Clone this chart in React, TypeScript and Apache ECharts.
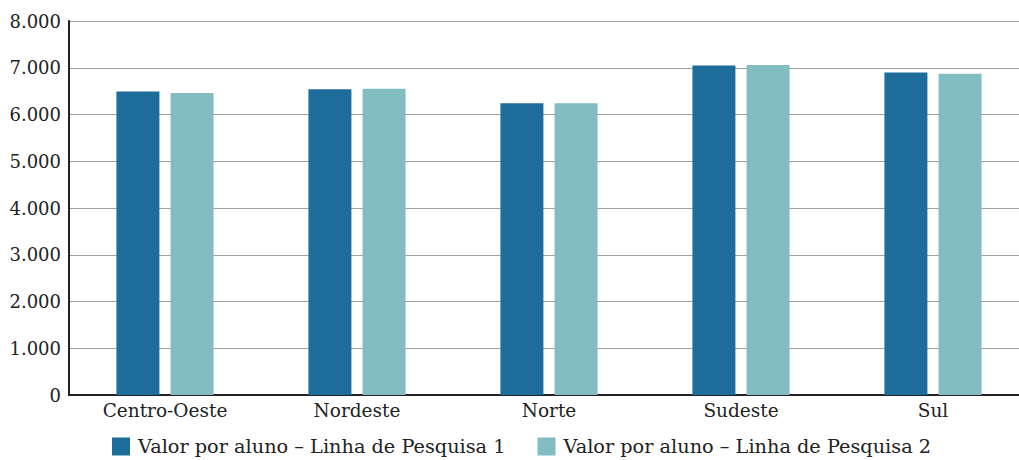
import React, { useEffect, useRef } from "react";
import * as echarts from "echarts";

const regions = ["Centro-Oeste", "Nordeste", "Norte", "Sudeste", "Sul"];
const linha1 = [6490, 6540, 6240, 7050, 6900];
const linha2 = [6460, 6550, 6240, 7060, 6870];
const seriesNames = [
  "Valor por aluno – Linha de Pesquisa 1",
  "Valor por aluno – Linha de Pesquisa 2",
];
const colors = ["#1d6d9b", "#82bec1"];

const FONT = "DejaVu Serif";

function formatThousands(v: number): string {
  return v === 0 ? "0" : String(v).replace(/\B(?=(\d{3})+(?!\d))/g, ".");
}

export default function App() {
  const ref = useRef<HTMLDivElement>(null);

  useEffect(() => {
    document.body.style.margin = "0";
    const chart = echarts.init(ref.current!, null, { renderer: "svg" });
    chart.setOption({
      animation: false,
      backgroundColor: "#ffffff",
      textStyle: { fontFamily: FONT },
      // plot area runs a little past the right edge, so the last category is clipped
      grid: {
        left: 69,
        width: 960,
        top: 21,
        bottom: 65,
        containLabel: false,
        outerBoundsMode: "none",
      },
      legend: {
        left: 112,
        top: 437,
        padding: 0,
        itemWidth: 18,
        itemHeight: 18,
        itemGap: 32,
        icon: "rect",
        textStyle: {
          fontFamily: FONT,
          fontSize: 19.3,
          color: "#222",
          padding: [0, 0, 0, 3],
        },
        data: seriesNames,
      },
      xAxis: {
        type: "category",
        data: regions,
        axisLine: { lineStyle: { color: "#222", width: 2 } },
        axisTick: { show: false },
        axisLabel: { fontFamily: FONT, fontSize: 18.5, color: "#222", margin: 6 },
      },
      yAxis: {
        type: "value",
        min: 0,
        max: 8000,
        interval: 1000,
        axisLine: { show: true, lineStyle: { color: "#222", width: 2 } },
        axisTick: { show: false },
        axisLabel: {
          fontFamily: FONT,
          fontSize: 18,
          color: "#222",
          margin: 8,
          formatter: (v: number) => formatThousands(v),
        },
        splitLine: { lineStyle: { color: "#a0a0a0", width: 1 } },
      },
      series: [
        {
          name: seriesNames[0],
          type: "bar",
          data: linha1,
          barWidth: 43,
          barGap: "26%",
          itemStyle: { color: colors[0] },
        },
        {
          name: seriesNames[1],
          type: "bar",
          data: linha2,
          barWidth: 43,
          barGap: "26%",
          itemStyle: { color: colors[1] },
        },
      ],
    });
    return () => chart.dispose();
  }, []);

  return <div ref={ref} style={{ width: 1019, height: 460 }} />;
}
